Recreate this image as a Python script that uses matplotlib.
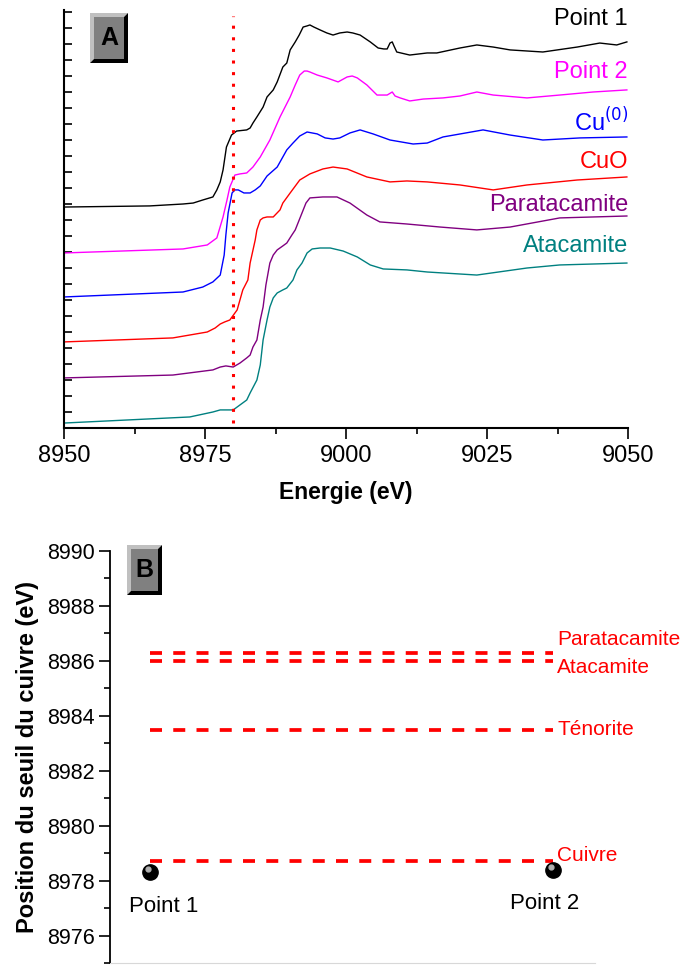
import numpy as np
import matplotlib.pyplot as plt
from matplotlib.patches import Polygon, Rectangle
from matplotlib.ticker import MultipleLocator
from matplotlib.transforms import ScaledTranslation

plt.rcParams['font.family'] = ['Liberation Sans', 'DejaVu Sans']

# ---- Panel A : spectres XANES (unites arbitraires decalees)
e_point1 = [8950, 8965.2, 8971.1, 8972.9, 8974.6, 8976.4, 8977.1, 8977.7, 8978.2, 8978.8,
            8979.7, 8980.6, 8982.4, 8983.0, 8983.5, 8984.2, 8985.3, 8986.0, 8987.1, 8987.8,
            8988.8, 8989.5, 8990.1, 8991.0, 8991.7, 8992.4, 8993.1, 8993.6, 8994.3, 8995.4,
            8996.6, 8997.7, 8998.9, 9000.2, 9001.2, 9002.5, 9004.3, 9005.7, 9006.7, 9007.3,
            9007.8, 9008.2, 9008.5, 9009.0, 9011.3, 9014.4, 9016.1, 9020.2, 9023.2, 9026.1,
            9029.1, 9034.9, 9041.0, 9045.0, 9048.0, 9049.8]
a_point1 = [13.81, 13.88, 14.0, 14.06, 14.25, 14.44, 14.88, 15.38, 16.13, 17.56,
            18.31, 18.56, 18.63, 18.75, 19.06, 19.44, 20.06, 20.69, 21.13, 21.63,
            22.56, 22.81, 23.63, 24.13, 24.56, 25.06, 25.13, 25.19, 25.06, 24.88,
            24.69, 24.56, 24.69, 24.75, 24.69, 24.56, 24.13, 23.75, 23.69, 23.69,
            24.06, 24.13, 23.88, 23.5, 23.31, 23.44, 23.44, 23.75, 23.94, 23.81,
            23.63, 23.5, 23.81, 24.06, 23.94, 24.13]

e_point2 = [8950, 8971.1, 8975.4, 8977.1, 8978.2, 8978.9, 8979.4, 8980.3, 8981.2, 8982.4,
            8983.5, 8984.8, 8986.5, 8988.3, 8990.1, 8991.0, 8991.8, 8992.6, 8993.1, 8993.6,
            8994.9, 8996.6, 8998.6, 9000.2, 9001.1, 9002.0, 9003.7, 9005.5, 9007.3, 9008.2,
            9008.7, 9009.6, 9011.3, 9013.7, 9017.2, 9020.2, 9023.2, 9026.1, 9032.1, 9037.9,
            9043.8, 9049.8]
a_point2 = [10.94, 11.19, 11.44, 11.88, 13.19, 14.25, 15.06, 15.81, 15.88, 15.94,
            16.31, 16.94, 18.0, 19.44, 20.69, 21.44, 22.06, 22.31, 22.31, 22.25,
            22.06, 21.88, 21.63, 21.94, 22.0, 21.88, 21.44, 20.81, 20.81, 21.0,
            20.75, 20.63, 20.44, 20.56, 20.63, 20.75, 21.0, 20.81, 20.63, 20.81,
            21.0, 21.13]

e_cu = [8950, 8971.1, 8974.6, 8976.4, 8977.7, 8978.4, 8978.7, 8979.1, 8979.8, 8980.3,
        8980.9, 8981.9, 8983.0, 8983.9, 8984.8, 8986.0, 8987.8, 8989.5, 8990.6, 8991.8,
        8993.1, 8994.9, 8996.3, 8997.7, 8998.9, 9000.7, 9002.5, 9004.8, 9007.8, 9011.9,
        9014.4, 9017.2, 9024.3, 9029.1, 9034.9, 9041.5, 9049.8]
a_cu = [8.19, 8.5, 8.81, 9.13, 9.56, 10.81, 12.06, 13.44, 14.69, 14.88,
        14.88, 14.69, 14.69, 14.88, 15.13, 15.75, 16.31, 17.38, 17.81, 18.25,
        18.5, 18.38, 18.13, 18.06, 18.13, 18.44, 18.63, 18.38, 18.0, 17.75,
        17.81, 18.19, 18.63, 18.31, 18.0, 18.13, 18.19]

e_cuo = [8950, 8969.3, 8975.4, 8976.8, 8977.7, 8978.5, 8979.4, 8980.7, 8981.7, 8982.6,
         8983.0, 8983.9, 8984.2, 8984.8, 8985.3, 8986.0, 8987.1, 8988.3, 8988.8, 8990.1,
         8991.8, 8993.6, 8995.9, 8997.7, 9000.2, 9003.7, 9007.8, 9010.8, 9014.4, 9020.2,
         9026.1, 9032.1, 9041.0, 9049.8]
a_cuo = [5.38, 5.63, 6.0, 6.25, 6.5, 6.63, 6.75, 7.38, 8.63, 9.25,
         10.31, 11.75, 12.38, 13.0, 13.13, 13.19, 13.19, 13.63, 14.06, 14.69,
         15.5, 15.88, 16.19, 16.31, 16.19, 15.69, 15.38, 15.44, 15.38, 15.19,
         14.88, 15.19, 15.5, 15.69]

e_para = [8950, 8969.3, 8976.4, 8977.7, 8978.7, 8980.0, 8981.2, 8982.4, 8983.0, 8983.5,
          8984.2, 8984.8, 8985.3, 8985.8, 8986.5, 8987.1, 8987.8, 8988.8, 8989.5, 8990.4,
          8991.0, 8992.2, 8992.9, 8993.6, 8995.9, 8998.4, 9000.7, 9003.7, 9006.0, 9010.8,
          9016.7, 9023.2, 9029.1, 9037.9, 9049.8]
a_para = [3.13, 3.31, 3.63, 3.81, 3.88, 3.81, 4.06, 4.38, 4.56, 5.06,
          5.5, 6.75, 7.56, 8.94, 10.31, 10.81, 11.13, 11.38, 11.56, 12.06,
          12.38, 13.44, 14.06, 14.38, 14.44, 14.44, 14.06, 13.31, 12.88, 12.75,
          12.56, 12.38, 12.56, 13.13, 13.25]

e_ata = [8950, 8972.3, 8976.4, 8977.7, 8980.0, 8981.2, 8982.4, 8983.0, 8984.2, 8984.8,
         8985.3, 8986.0, 8986.5, 8987.1, 8987.8, 8988.8, 8989.5, 8990.6, 8991.3, 8992.2,
         8993.1, 8994.0, 8995.4, 8997.2, 8999.5, 9002.0, 9004.3, 9006.6, 9010.8, 9014.4,
         9023.2, 9032.1, 9037.9, 9049.8]
a_ata = [0.31, 0.69, 1.0, 1.13, 1.13, 1.44, 1.75, 2.19, 3.0, 3.94,
         5.5, 6.75, 7.56, 8.13, 8.44, 8.63, 8.75, 9.25, 9.88, 10.31,
         10.94, 11.19, 11.25, 11.25, 11.06, 10.69, 10.19, 9.94, 9.88, 9.75,
         9.56, 10.0, 10.19, 10.31]

noms_a = ["Point 1", "Point 2", "Cu$^{(0)}$", "CuO", "Paratacamite", "Atacamite"]
couleurs_a = ['#000000', '#ff00ff', '#0000ff', '#ff0000', '#800080', '#008080']
y_etiq_a = [25.56, 22.25, 19.1, 16.63, 13.94, 11.38]
seuil_ref = 8980

# ---- Panel B : position du seuil
points_b = ["Point 1", "Point 2"]
x_points_b = [1, 2]
seuil_points = [8978.3, 8978.4]
x_etiq_points = [1.035, 1.98]
refs_b = ["Paratacamite", "Atacamite", "Ténorite", "Cuivre"]
seuil_refs = [8986.3, 8986.0, 8983.5, 8978.7]
y_etiq_b = [8986.78, 8985.76, 8983.51, 8978.91]

W, H = 683, 965
fig = plt.figure(figsize=(W / 100, H / 100), dpi=100)

# Panel A
axA = fig.add_axes([64 / W, 1 - 428 / H, 564 / W, 418 / H])
spectres = [(e_point1, a_point1), (e_point2, a_point2), (e_cu, a_cu),
            (e_cuo, a_cuo), (e_para, a_para), (e_ata, a_ata)]
for (e, a), c in zip(spectres, couleurs_a):
    axA.plot(e, a, color=c, lw=1.0)
axA.plot([seuil_ref, seuil_ref], [0.3, 25.75], color='red', lw=2.2,
         linestyle=(0, (1, 2.8)))
for nom, c, y in zip(noms_a, couleurs_a, y_etiq_a):
    axA.text(9050, y, nom, color=c, fontsize=17, ha='right', va='center')
axA.set_xlim(8950, 9050)
axA.set_ylim(0, 418 / 16)
axA.xaxis.set_major_locator(MultipleLocator(25))
axA.xaxis.set_minor_locator(MultipleLocator(12.5))
axA.yaxis.set_major_locator(MultipleLocator(1))
axA.set_yticklabels([])
axA.tick_params(axis='y', direction='in', length=6, width=1.2)
axA.tick_params(axis='x', which='major', direction='out', length=8, width=1.2, labelsize=17, pad=4)
axA.tick_params(axis='x', which='minor', direction='out', length=4, width=1.2)
for s in ['top', 'right']:
    axA.spines[s].set_visible(False)
for s in ['left', 'bottom']:
    axA.spines[s].set_linewidth(1.5)
axA.set_xlabel("Energie (eV)", fontsize=16.5, fontweight='bold', labelpad=10)

# Panel B
axB = fig.add_axes([110 / W, 2 / H, 485 / W, 412 / H])
for v in seuil_refs:
    axB.plot([x_points_b[0], x_points_b[1]], [v, v], color='red', lw=2.7,
             linestyle=(0, (3.2, 3.0)))
for nom, y in zip(refs_b, y_etiq_b):
    axB.text(2.01, y, nom, color='red', fontsize=15, ha='left', va='center')
axB.plot(x_points_b, seuil_points, 'o', color='black', markersize=11, zorder=5)
reflet = axB.transData + ScaledTranslation(-2 / 100, 3 / 100, fig.dpi_scale_trans)
axB.plot(x_points_b, seuil_points, 'o', color='#b0b0b0', markersize=3.5, zorder=6,
         transform=reflet)
for x, v, nom in zip(x_etiq_points, seuil_points, points_b):
    axB.text(x, v - 1.25, nom, fontsize=16, ha='center', va='center')
axB.set_xlim(0.9007, 2.104)
axB.set_ylim(8975, 8990)
axB.yaxis.set_major_locator(MultipleLocator(2))
axB.yaxis.set_minor_locator(MultipleLocator(1))
axB.set_xticks([])
axB.tick_params(axis='y', which='major', direction='out', length=8, width=1.2, labelsize=15.5, pad=3)
axB.tick_params(axis='y', which='minor', direction='out', length=4, width=1.2)
for s in ['top', 'right']:
    axB.spines[s].set_visible(False)
axB.spines['left'].set_linewidth(1.3)
axB.spines['bottom'].set_color('#d8d8d8')
axB.set_ylabel("Position du seuil du cuivre (eV)", fontsize=17, fontweight='bold', labelpad=6)


def boite(x0, y0, x1, y1, lettre):
    b = 4
    def f(px, py):
        return (px / W, 1 - py / H)
    clair = [f(x0, y0), f(x1, y0), f(x1 - b, y0 + b), f(x0 + b, y0 + b), f(x0 + b, y1 - b), f(x0, y1)]
    fonce = [f(x1, y0), f(x1, y1), f(x0, y1), f(x0 + b, y1 - b), f(x1 - b, y1 - b), f(x1 - b, y0 + b)]
    fig.add_artist(Polygon(clair, closed=True, transform=fig.transFigure, fc='#c0c0c0', ec='none'))
    fig.add_artist(Polygon(fonce, closed=True, transform=fig.transFigure, fc='#000000', ec='none'))
    fig.add_artist(Rectangle(f(x0 + b, y1 - b), (x1 - x0 - 2 * b) / W, (y1 - y0 - 2 * b) / H,
                             transform=fig.transFigure, fc='#808080', ec='none'))
    cx, cy = f((x0 + x1) / 2, (y0 + y1) / 2)
    fig.text(cx, cy, lettre, fontsize=18, fontweight='bold', ha='center', va='center')


boite(90, 13, 128, 63, "A")
boite(127, 545, 162, 595, "B")

fig.savefig("out.png", dpi=100)
